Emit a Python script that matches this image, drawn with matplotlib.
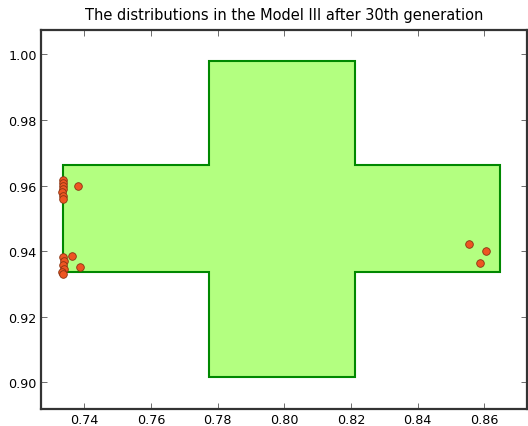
import matplotlib
matplotlib.use("Agg")
import matplotlib.pyplot as plt
from matplotlib.patches import Polygon

# Cross-shaped region (vertices in data coordinates)
cross_x = [0.7336, 0.7774, 0.7774, 0.8212, 0.8212, 0.8649, 0.8649, 0.8212, 0.8212, 0.7774, 0.7774, 0.7336]
cross_y = [0.9662, 0.9662, 0.998, 0.998, 0.9662, 0.9662, 0.9338, 0.9338, 0.9015, 0.9015, 0.9338, 0.9338]

# Population points
pts_x = [0.7336, 0.7335, 0.7337, 0.7336, 0.7334, 0.7336, 0.7335, 0.7381,
         0.7336, 0.7338, 0.7335, 0.7340, 0.7333, 0.7336, 0.7363, 0.7387,
         0.8554, 0.8605, 0.8587]
pts_y = [0.9617, 0.9608, 0.9598, 0.9590, 0.9581, 0.9568, 0.9559, 0.9598,
         0.9382, 0.9370, 0.9358, 0.9345, 0.9336, 0.9330, 0.9385, 0.9352,
         0.9422, 0.9400, 0.9364]

xticks = [0.74, 0.76, 0.78, 0.80, 0.82, 0.84, 0.86]
yticks = [0.90, 0.92, 0.94, 0.96, 0.98, 1.00]

fig = plt.figure(figsize=(5.28, 4.27), dpi=100)
ax = fig.add_axes([0.0777, 0.040, 0.920, 0.887])

poly = Polygon(list(zip(cross_x, cross_y)), closed=True, facecolor="#b3ff80",
               edgecolor="#008800", linewidth=1.5)
ax.add_patch(poly)
ax.scatter(pts_x, pts_y, s=30, c="#ee5522", edgecolors="#883311", linewidths=0.6, zorder=3)

ax.set_xlim(0.7270, 0.8728)
ax.set_ylim(0.8919, 1.0074)
ax.set_xticks(xticks)
ax.set_yticks(yticks)
ax.set_xticklabels([f"{v:.2f}" for v in xticks])
ax.set_yticklabels([f"{v:.2f}" for v in yticks])
ax.tick_params(direction="in", top=True, right=True, labelsize=9.2, length=4, width=0.6,
               color="#555555", pad=3)
for s in ax.spines.values():
    s.set_linewidth(1.6)
    s.set_color("#333333")
ax.set_title("The distributions in the Model III after 30th generation", fontsize=10.5, pad=8)

fig.savefig("out.png", dpi=100)
